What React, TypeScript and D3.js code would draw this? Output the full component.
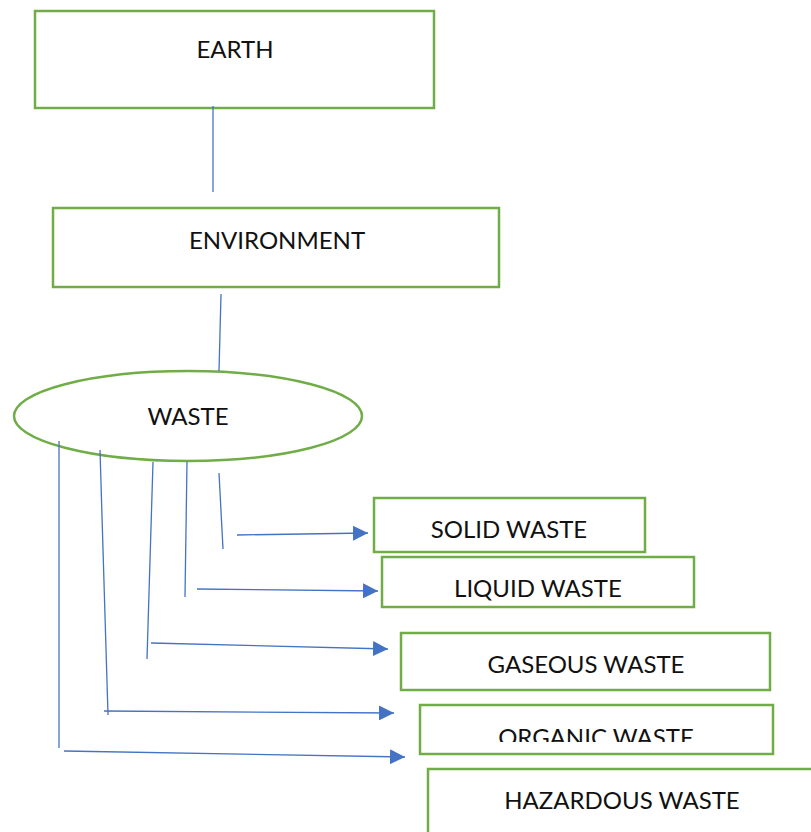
import React, { useRef, useEffect } from 'react';
import * as d3 from 'd3';

// node labels, top to bottom
const topLabels = ['EARTH', 'ENVIRONMENT'];
const hubLabel = 'WASTE';
const wasteTypes = ['SOLID WASTE', 'LIQUID WASTE', 'GASEOUS WASTE', 'ORGANIC WASTE', 'HAZARDOUS WASTE'];

// layout of the drawing (pixels), kept apart from the labels
// cy = bottom of the text clip area (text boxes in the source cut their labels off)
const topBoxes = [
  { x0: 35, y0: 11, x1: 434, y1: 108, tx: 235, ty: 58, cy: 106 },
  { x0: 53, y0: 208, x1: 499, y1: 287, tx: 277, ty: 249, cy: 285 },
];
const typeBoxes = [
  { x0: 374, y0: 498, x1: 645, y1: 552, tx: 509, ty: 538, cy: 550 },
  { x0: 382, y0: 557, x1: 694, y1: 607, tx: 538, ty: 597, cy: 605 },
  { x0: 401, y0: 633, x1: 770, y1: 690, tx: 586, ty: 673, cy: 688 },
  { x0: 420, y0: 705, x1: 773, y1: 754, tx: 596, ty: 746, cy: 742 },
  { x0: 428, y0: 769, x1: 830, y1: 850, tx: 622, ty: 809, cy: 832 },
];
const hub = { cx: 188, cy: 416, rx: 174, ry: 45 };

// plain connector lines
const links: [number, number, number, number][] = [
  [213, 106, 213, 192],
  [221, 294, 219, 371],
  [59, 441, 59, 748],
  [100, 450, 108, 715],
  [153, 462, 147, 659],
  [187, 462, 185, 597],
  [219, 473, 223, 549],
];
// arrows toward each waste type
const arrows: [number, number, number, number][] = [
  [237, 535, 368, 533],
  [197, 589, 378, 591],
  [151, 643, 388, 649],
  [104, 711, 394, 713],
  [64, 751, 405, 757],
];

const GREEN = '#70AD47';
const BLUE = '#4472C4';
const FONT = 'Lato, "Open Sans", sans-serif';

const App = () => {
  const svgRef = useRef<SVGSVGElement>(null);

  useEffect(() => {
    const svg = d3.select(svgRef.current);
    svg.selectAll('*').remove();

    const defs = svg.append('defs');
    defs.append('marker')
      .attr('id', 'head')
      .attr('viewBox', '0 0 15 15')
      .attr('refX', 15)
      .attr('refY', 7.5)
      .attr('markerWidth', 15)
      .attr('markerHeight', 15)
      .attr('markerUnits', 'userSpaceOnUse')
      .attr('orient', 'auto')
      .append('path')
      .attr('d', 'M0,0L15,7.5L0,15Z')
      .attr('fill', BLUE);

    const allBoxes = [...topBoxes, ...typeBoxes];
    const allLabels = [...topLabels, ...wasteTypes];

    allBoxes.forEach((b, i) => {
      defs.append('clipPath')
        .attr('id', `clip${i}`)
        .append('rect')
        .attr('x', b.x0)
        .attr('y', b.y0)
        .attr('width', b.x1 - b.x0)
        .attr('height', b.cy - b.y0);
    });

    svg.selectAll('rect.box')
      .data(allBoxes)
      .join('rect')
      .attr('class', 'box')
      .attr('x', d => d.x0)
      .attr('y', d => d.y0)
      .attr('width', d => d.x1 - d.x0)
      .attr('height', d => d.y1 - d.y0)
      .attr('fill', 'white')
      .attr('stroke', GREEN)
      .attr('stroke-width', 2.5);

    svg.selectAll('text.lbl')
      .data(allBoxes)
      .join('text')
      .attr('class', 'lbl')
      .attr('x', d => d.tx)
      .attr('y', d => d.ty)
      .attr('clip-path', (_, i) => `url(#clip${i})`)
      .attr('text-anchor', 'middle')
      .attr('font-family', FONT)
      .attr('font-size', 24)
      .attr('fill', '#111')
      .text((_, i) => allLabels[i]);

    svg.append('ellipse')
      .attr('cx', hub.cx)
      .attr('cy', hub.cy)
      .attr('rx', hub.rx)
      .attr('ry', hub.ry)
      .attr('fill', 'white')
      .attr('stroke', GREEN)
      .attr('stroke-width', 2.5);

    svg.append('text')
      .attr('x', hub.cx)
      .attr('y', hub.cy + 9)
      .attr('text-anchor', 'middle')
      .attr('font-family', FONT)
      .attr('font-size', 24)
      .attr('fill', '#111')
      .text(hubLabel);

    svg.selectAll('line.link')
      .data(links)
      .join('line')
      .attr('class', 'link')
      .attr('x1', d => d[0])
      .attr('y1', d => d[1])
      .attr('x2', d => d[2])
      .attr('y2', d => d[3])
      .attr('stroke', BLUE)
      .attr('stroke-width', 1.3);

    svg.selectAll('line.arrow')
      .data(arrows)
      .join('line')
      .attr('class', 'arrow')
      .attr('x1', d => d[0])
      .attr('y1', d => d[1])
      .attr('x2', d => d[2])
      .attr('y2', d => d[3])
      .attr('stroke', BLUE)
      .attr('stroke-width', 1.3)
      .attr('marker-end', 'url(#head)');
  }, []);

  return (
    <svg
      ref={svgRef}
      width={811}
      height={832}
      style={{ position: 'absolute', left: 0, top: 0, background: 'white' }}
    ></svg>
  );
};

export default App;
